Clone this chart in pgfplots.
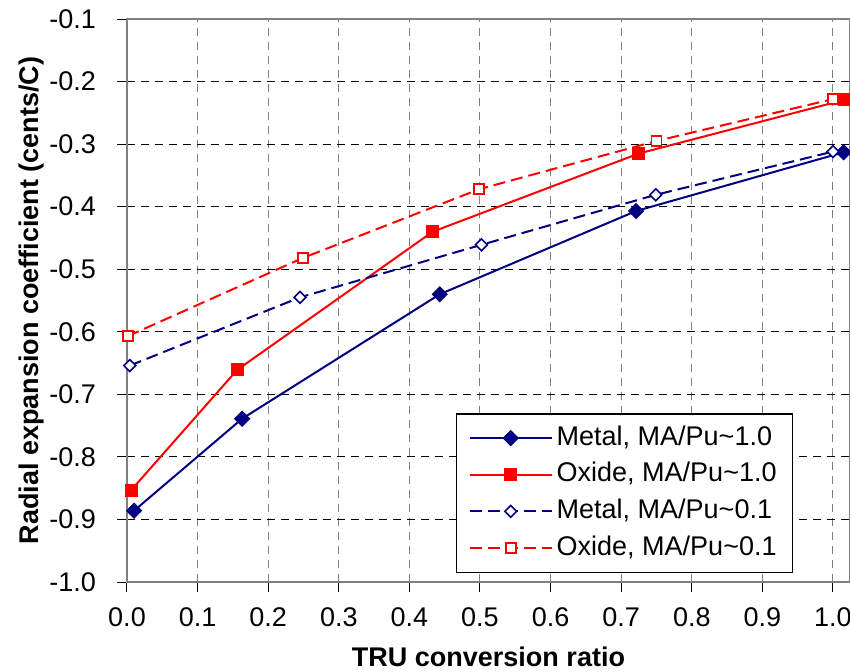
\documentclass[border=0pt]{standalone}
\usepackage{fontspec}
\setmainfont{Liberation Sans}
\usepackage{pgfplots}
\pgfplotsset{compat=1.18}

\definecolor{navy}{RGB}{0,0,128}
\definecolor{xlred}{RGB}{255,0,0}

\begin{document}
\begin{tikzpicture}
\begin{axis}[
    at={(0,0)}, anchor=south west,
    scale only axis,
    width=361.5pt, height=281.5pt,
    xmin=0, xmax=1.0241,
    ymin=-1.0, ymax=-0.1,
    xtick={0,0.1,0.2,0.3,0.4,0.5,0.6,0.7,0.8,0.9,1.0},
    xticklabels={0.0,0.1,0.2,0.3,0.4,0.5,0.6,0.7,0.8,0.9,1.0},
    ytick={-1.0,-0.9,-0.8,-0.7,-0.6,-0.5,-0.4,-0.3,-0.2,-0.1},
    yticklabels={-1.0,-0.9,-0.8,-0.7,-0.6,-0.5,-0.4,-0.3,-0.2,-0.1},
    xtick pos=bottom, ytick pos=left,
    tick align=outside,
    major tick length=5pt,
    tick style={black, line width=0.5pt},
    axis line style={gray, line width=0.9pt},
    grid=major,
    x grid style={gray, dash pattern=on 4pt off 3pt, line width=0.5pt},
    y grid style={black, dash pattern=on 4pt off 3pt, line width=0.5pt},
    tick label style={font=\fontsize{13.5}{16}\selectfont},
    xticklabel style={yshift=-4.5pt},
    yticklabel style={xshift=-7pt},
    xlabel={TRU conversion ratio},
    ylabel={Radial expansion coefficient (cents/C)},
    label style={font=\fontsize{13.5}{16}\selectfont\bfseries},
    xlabel style={at={(axis description cs:0.5,-0.1332)}, anchor=center},
    ylabel style={at={(axis description cs:-0.1314,0.5)}, anchor=center},
    legend style={at={(axis description cs:0.455,0.300)}, anchor=north west,
        draw=black, line width=0.75pt, fill=white,
        font=\fontsize{13.5}{16}\selectfont,
        inner xsep=6pt, inner ysep=3pt, row sep=0pt,
        nodes={text height=9.8pt, text depth=2.7pt, inner ysep=2.9pt}},
    legend cell align=left,
    legend image code/.code={
        \draw[mark repeat=2, mark phase=2, #1]
            plot coordinates {(0pt,0pt) (20.5pt,0pt) (41pt,0pt)};
    },
]

% Metal, MA/Pu~1.0
\addplot[navy, line width=1pt, mark=square*, mark size=2.4pt,
    mark options={solid, fill=navy, rotate=45}]
    coordinates {
    (0.010,-0.886) (0.163,-0.739) (0.443,-0.540) (0.721,-0.407) (1.015,-0.313)
};

% Oxide, MA/Pu~1.0
\addplot[xlred, line width=1pt, mark=square*, mark size=2.75pt,
    mark options={solid, fill=xlred}]
    coordinates {
    (0.006,-0.853) (0.156,-0.661) (0.433,-0.440) (0.725,-0.315) (1.017,-0.229)
};

% Metal, MA/Pu~0.1
\addplot[navy, line width=1pt, dash pattern=on 6pt off 3pt,
    mark=square*, mark size=2.1pt,
    mark options={solid, fill=white, line width=0.8pt, rotate=45}]
    coordinates {
    (0.004,-0.654) (0.245,-0.545) (0.502,-0.461) (0.749,-0.381) (1.000,-0.312)
};

% Oxide, MA/Pu~0.1
\addplot[xlred, line width=1pt, dash pattern=on 6pt off 3pt,
    mark=square*, mark size=2.5pt,
    mark options={solid, fill=white, line width=0.8pt}]
    coordinates {
    (0.001,-0.607) (0.249,-0.482) (0.499,-0.372) (0.750,-0.295) (1.000,-0.228)
};

\legend{Metal{,} MA/Pu\textasciitilde1.0, Oxide{,} MA/Pu\textasciitilde1.0,
        Metal{,} MA/Pu\textasciitilde0.1, Oxide{,} MA/Pu\textasciitilde0.1}

\end{axis}
\pgfresetboundingbox
\path[use as bounding box] (-63.5pt,-44.5pt) rectangle (361.5pt,291pt);
\end{tikzpicture}
\end{document}
